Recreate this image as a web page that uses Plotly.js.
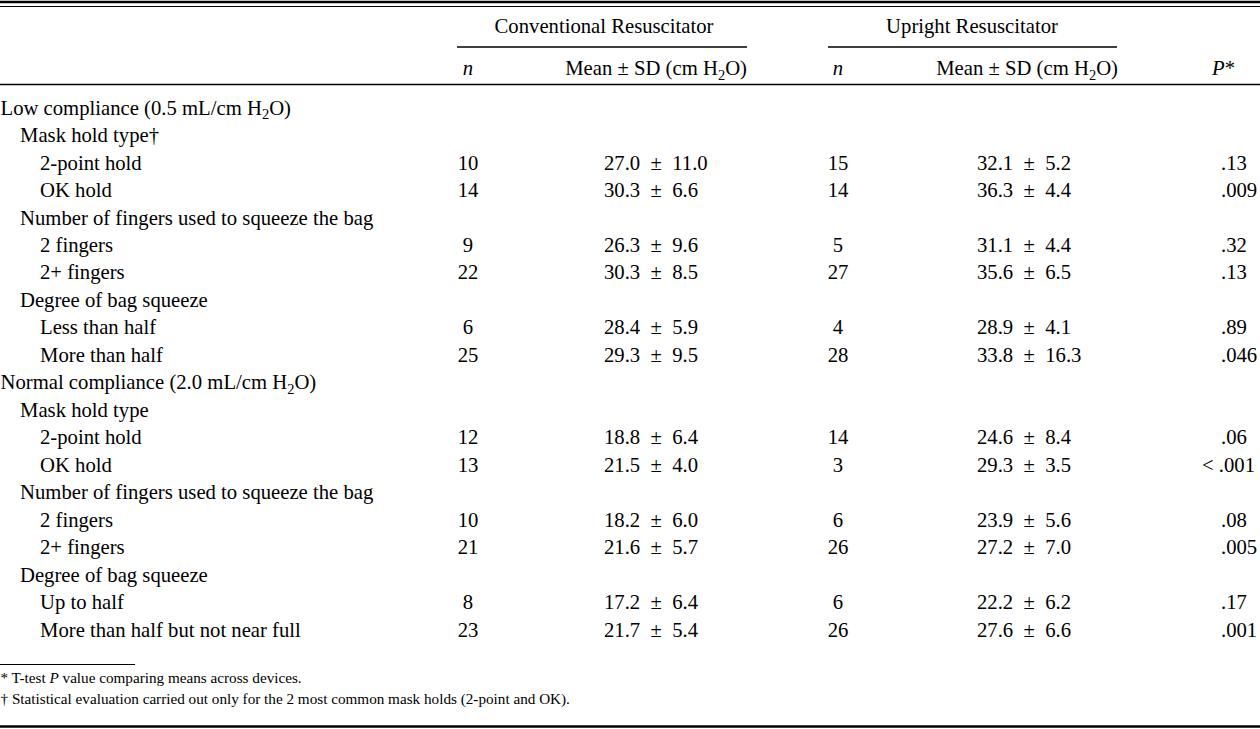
<!DOCTYPE html>
<html>
<head>
<meta charset="utf-8">
<script src="https://cdn.plot.ly/plotly-3.0.1.min.js"></script>
<style>html,body{margin:0;padding:0;background:#fff;}#chart{width:1260px;height:729px;}</style>
</head>
<body>
<div id="chart"></div>
<script>
// ---- data ----
const rowLabels = [
  "Low compliance (0.5 mL/cm H<sub>2</sub>O)",
  "Mask hold type†",
  "2-point hold",
  "OK hold",
  "Number of fingers used to squeeze the bag",
  "2 fingers",
  "2+ fingers",
  "Degree of bag squeeze",
  "Less than half",
  "More than half",
  "Normal compliance (2.0 mL/cm H<sub>2</sub>O)",
  "Mask hold type",
  "2-point hold",
  "OK hold",
  "Number of fingers used to squeeze the bag",
  "2 fingers",
  "2+ fingers",
  "Degree of bag squeeze",
  "Up to half",
  "More than half but not near full"
];
const rowLevels = [0,1,2,2,1,2,2,1,2,2,0,1,2,2,1,2,2,1,2,2];
const convN    = [null,null,10,14,null,9,22,null,6,25,null,null,12,13,null,10,21,null,8,23];
const convMean = [null,null,27.0,30.3,null,26.3,30.3,null,28.4,29.3,null,null,18.8,21.5,null,18.2,21.6,null,17.2,21.7];
const convSD   = [null,null,11.0,6.6,null,9.6,8.5,null,5.9,9.5,null,null,6.4,4.0,null,6.0,5.7,null,6.4,5.4];
const upN      = [null,null,15,14,null,5,27,null,4,28,null,null,14,3,null,6,26,null,6,26];
const upMean   = [null,null,32.1,36.3,null,31.1,35.6,null,28.9,33.8,null,null,24.6,29.3,null,23.9,27.2,null,22.2,27.6];
const upSD     = [null,null,5.2,4.4,null,4.4,6.5,null,4.1,16.3,null,null,8.4,3.5,null,5.6,7.0,null,6.2,6.6];
const pValues  = [null,null,".13",".009",null,".32",".13",null,".89",".046",null,null,".06","< .001",null,".08",".005",null,".17",".001"];
const groupHeaders = ["Conventional Resuscitator", "Upright Resuscitator"];
const colHeaders = ["<i>n</i>", "Mean ± SD (cm H<sub>2</sub>O)", "<i>n</i>", "Mean ± SD (cm H<sub>2</sub>O)", "<i>P</i>*"];
const footnotes = [
  "* T-test <i>P</i> value comparing means across devices.",
  "† Statistical evaluation carried out only for the 2 most common mask holds (2-point and OK)."
];

// ---- layout constants ----
const FONT = "Liberation Serif, Times New Roman, serif";
const FS = 20.7;
const row0 = 109.5, rowStep = 27.47;
const rowY = i => row0 + i * rowStep;
const indent = [0.5, 20, 40];

const traces = [];
function textTrace(xs, ys, texts, pos, size) {
  traces.push({
    type: "scatter", mode: "text", x: xs, y: ys, text: texts,
    textposition: pos, cliponaxis: false, hoverinfo: "skip",
    textfont: {family: FONT, size: size || FS, color: "#000"}
  });
}

// row labels
textTrace(rowLabels.map((_, i) => indent[rowLevels[i]]), rowLabels.map((_, i) => rowY(i)), rowLabels, "middle right");

function cells(arr, fmt) {
  const ys = [], ts = [];
  arr.forEach((v, i) => { if (v !== null) { ys.push(rowY(i)); ts.push(fmt(v, i)); } });
  return {ys, ts};
}
const fmtMean = (m, s) => m.toFixed(1) + "\u2002±\u2002" + s.toFixed(1);

let c = cells(convN, v => String(v));
textTrace(c.ys.map(() => 468), c.ys, c.ts, "middle center");
c = cells(convMean, (v, i) => fmtMean(v, convSD[i]));
textTrace(c.ys.map(() => 604), c.ys, c.ts, "middle right");
c = cells(upN, v => String(v));
textTrace(c.ys.map(() => 838), c.ys, c.ts, "middle center");
c = cells(upMean, (v, i) => fmtMean(v, upSD[i]));
textTrace(c.ys.map(() => 977), c.ys, c.ts, "middle right");
c = cells(pValues, v => v);
textTrace(c.ys.map((_, k) => c.ts[k].startsWith("<") ? 1202 : 1221), c.ys, c.ts, "middle right");

// headers
textTrace([604, 972], [28, 28], groupHeaders, "middle center");
textTrace([468, 747, 838, 1118, 1212], [70, 70, 70, 70, 70], colHeaders,
  ["middle center", "middle left", "middle center", "middle left", "middle right"]);

// footnotes
textTrace([0.5, 0.5], [679, 700], footnotes, "middle right", 15.2);

const line = (x0, x1, y, w) => ({type: "line", xref: "x", yref: "y", x0, x1, y0: y, y1: y, line: {color: "#000", width: w}});
const shapes = [
  line(0, 1260, 2, 2.5),
  line(0, 1260, 6.5, 1),
  line(457, 747, 47, 1.3),
  line(828, 1117, 47, 1.3),
  line(0, 1260, 84.5, 1.5),
  line(0, 135, 664.5, 1),
  line(0, 1260, 726.5, 2.5)
];

Plotly.newPlot("chart", traces, {
  width: 1260, height: 729,
  margin: {l: 0, r: 0, t: 0, b: 0, pad: 0},
  paper_bgcolor: "#fff", plot_bgcolor: "#fff",
  showlegend: false,
  xaxis: {range: [0, 1260], visible: false, fixedrange: true},
  yaxis: {range: [729, 0], visible: false, fixedrange: true},
  shapes: shapes
}, {staticPlot: true, displayModeBar: false});
</script>
</body>
</html>
